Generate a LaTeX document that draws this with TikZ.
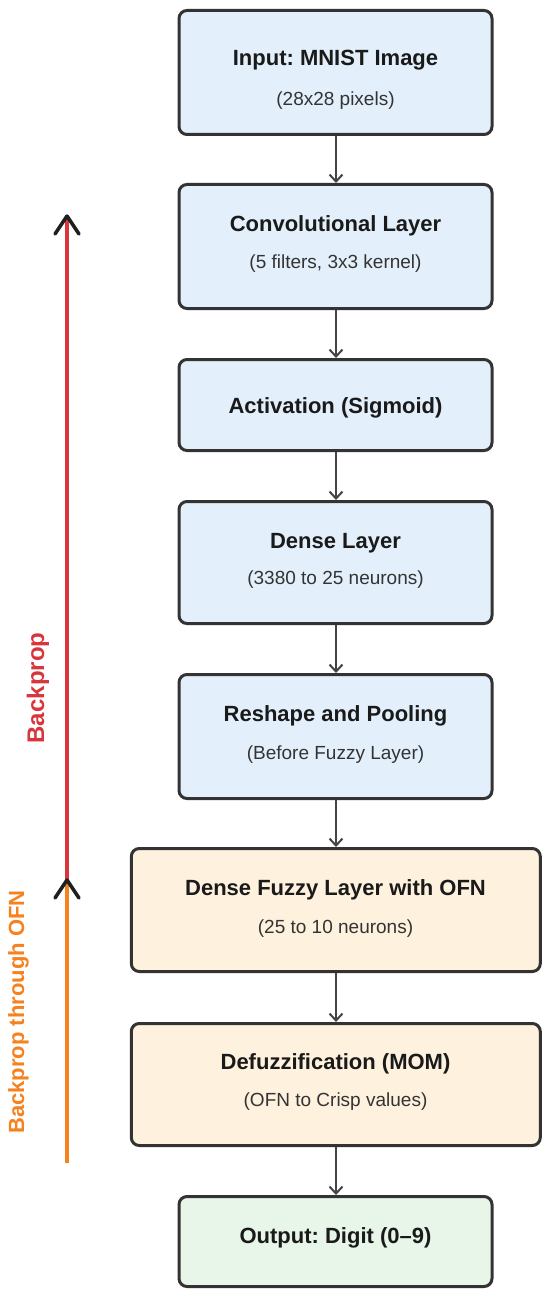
\documentclass[tikz,border=0pt]{standalone}
\usepackage{fontspec}
\setmainfont{Liberation Sans}
\frenchspacing
\usetikzlibrary{arrows.meta,calc}
\definecolor{boxblue}{HTML}{E3F0FB}
\definecolor{boxorange}{HTML}{FEF1DE}
\definecolor{boxgreen}{HTML}{E8F5E9}
\definecolor{edgecol}{HTML}{333333}
\definecolor{conncol}{HTML}{444444}
\definecolor{titlecol}{HTML}{1A1A1A}
\definecolor{subcol}{HTML}{333333}
\definecolor{bpred}{HTML}{D8353C}
\definecolor{bporange}{HTML}{F5821F}
\begin{document}
\begin{tikzpicture}[x=1pt,y=-1pt,
  layerbox/.style={draw=edgecol, line width=3pt, rounded corners=8pt, inner sep=0pt, minimum width=#1},
  narrowbox/.style={layerbox=313pt},
  widebox/.style={layerbox=409pt},
  titletext/.style={anchor=base, inner sep=0pt, text=titlecol, font=\fontsize{22}{25}\selectfont\bfseries},
  subtext/.style={anchor=base, inner sep=0pt, text=subcol, font=\fontsize{19}{22}\selectfont},
  conn/.style={draw=conncol, line width=2pt, -{Straight Barb[length=7pt,width=13pt]}},
  chev/.style={draw=black!88, line width=3.5pt, line cap=round, line join=round},
  bplabel/.style={inner sep=0pt, anchor=base, rotate=90, font=\fontsize{#1}{26}\selectfont\bfseries}
]
\useasboundingbox[fill=white] (0,0) rectangle (550,1300);

% boxes
\node[narrowbox, minimum height=124pt, fill=boxblue] (b1) at (335.5,72.5) {};
\node[narrowbox, minimum height=124pt, fill=boxblue] (b2) at (335.5,246.5) {};
\node[narrowbox, minimum height=91pt, fill=boxblue] (b3) at (335.5,405) {};
\node[narrowbox, minimum height=122pt, fill=boxblue] (b4) at (335.5,562.5) {};
\node[narrowbox, minimum height=124pt, fill=boxblue] (b5) at (335.5,736.5) {};
\node[widebox, minimum height=123pt, fill=boxorange] (b6) at (335.8,910) {};
\node[widebox, minimum height=122pt, fill=boxorange] (b7) at (335.8,1084.5) {};
\node[narrowbox, minimum height=90pt, fill=boxgreen] (b8) at (335.5,1241.5) {};

% texts
\node[titletext] (t1) at (335.5,66) {Input: MNIST Image};
\node[subtext] (s1) at (335.5,106) {(28x28 pixels)};
\node[titletext] (t2) at (335.5,231) {Convolutional Layer};
\node[subtext] (s2) at (335.5,268) {(5 filters, 3x3 kernel)};
\node[titletext] (t3) at (335.5,413) {Activation (Sigmoid)};
\node[titletext] (t4) at (335.5,548) {Dense Layer};
\node[subtext] (s4) at (335.5,584) {(3380 to 25 neurons)};
\node[titletext] (t5) at (335.5,721) {Reshape and Pooling};
\node[subtext] (s5) at (335.5,759) {(Before Fuzzy Layer)};
\node[titletext] (t6) at (335.5,895) {Dense Fuzzy Layer with OFN};
\node[subtext] (s6) at (335.5,933) {(25 to 10 neurons)};
\node[titletext] (t7) at (335.5,1069) {Defuzzification (MOM)};
\node[subtext] (s7) at (335.5,1106) {(OFN to Crisp values)};
\node[titletext] (t8) at (335.5,1243) {Output: Digit (0--9)};

% connectors
\draw[conn] (b1.south -| 336,0) -- (b2.north -| 336,0);
\draw[conn] (b2.south -| 336,0) -- (b3.north -| 336,0);
\draw[conn] (b3.south -| 336,0) -- (b4.north -| 336,0);
\draw[conn] (b4.south -| 336,0) -- (b5.north -| 336,0);
\draw[conn] (b5.south -| 336,0) -- (b6.north -| 336,0);
\draw[conn] (b6.south -| 336,0) -- (b7.north -| 336,0);
\draw[conn] (b7.south -| 336,0) -- (b8.north -| 336,0);

% backprop arrows
\coordinate (rtop) at (67,216);
\coordinate (rbot) at (67,880);
\coordinate (obot) at (67,1163);
\draw[bpred, line width=4.5pt] (rbot) -- (rtop);
\draw[bporange, line width=4.5pt] (obot) -- (rbot);
\draw[chev] ($(rtop)+(-12,18)$) -- (rtop) -- ($(rtop)+(12,18)$);
\draw[chev] ($(rbot)+(-12,18)$) -- (rbot) -- ($(rbot)+(12,18)$);

\node[bplabel=24, text=bpred] (l1) at (44,688) {Backprop};
\node[bplabel=22, text=bporange] (l2) at (24,1012) {Backprop through OFN};
\end{tikzpicture}
\end{document}
